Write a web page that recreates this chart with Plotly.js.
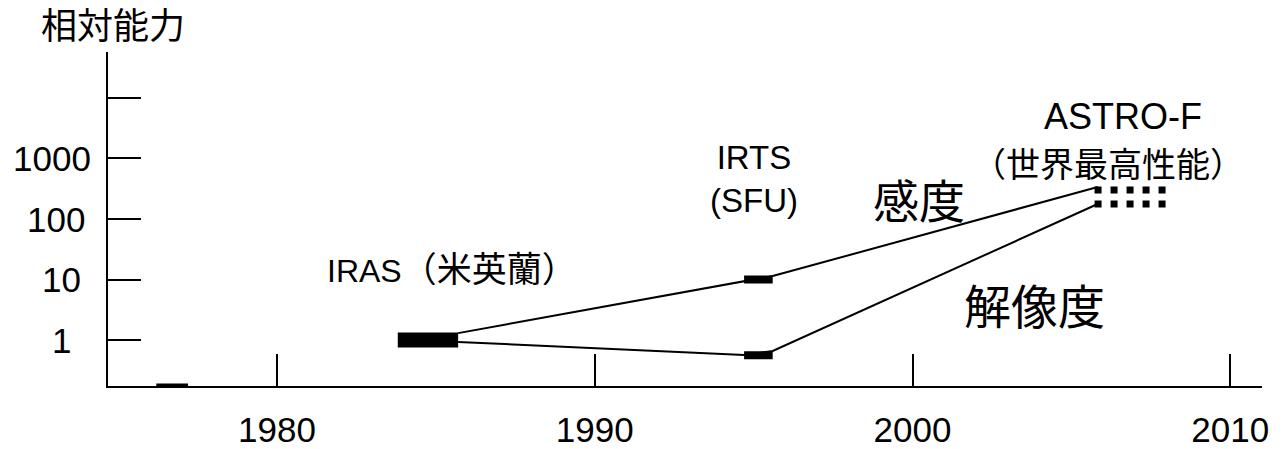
<!DOCTYPE html>
<html>
<head>
<meta charset="utf-8">
<script src="https://cdn.plot.ly/plotly-3.0.1.min.js"></script>
<style>html,body{margin:0;padding:0;background:#fff;}#chart{width:1282px;height:449px;}</style>
</head>
<body>
<div id="chart"></div>
<script>
// ---- data ----
const xTickVals = [1980, 1990, 2000, 2010];
const xTickText = ['1980', '1990', '2000', '2010'];
const yTickVals = [1, 10, 100, 1000, 10000];
const yTickText = ['1', '10', '100', '1000', ''];
const yTickLabelX = [-0.0399, -0.0407, -0.0451, -0.0485, 0];

const earlyYears = [1976.2, 1977.2];
const earlyValue = [0.18, 0.18];

const irasYears = [1983.8, 1985.7];
const irasValue = [1, 1];

const irtsYears = [1994.7, 1995.6];
const irtsSensitivity = [10, 10];
const irtsResolution = [0.56, 0.56];

const astroYears = [2005.73, 2008.0];
const astroSensitivity = [301, 301];
const astroResolution = [177, 177];

const sensYears = [1985.7, 1994.7, 1995.6, 2005.83];
const sensValues = [1.3, 9.4, 11.4, 338];
const resYears = [1985.7, 1994.7, 1995.6, 2005.83];
const resValues = [0.93, 0.565, 0.66, 177];

const labels = [
  {text: '<span style="font-size:32px">IRAS</span>（米英蘭）', x: 1985.5, y: 1.16, size: 35},
  {text: 'IRTS<br>(SFU)', x: 1995.0, y: 2.661, size: 33},
  {text: '感度', x: 2000.22, y: 2.281, size: 46},
  {text: '解像度', x: 2003.84, y: 0.545, size: 47},
  {text: 'ASTRO-F', x: 2006.61, y: 3.686, size: 36},
  {text: '（世界最高性能）', x: 2006.14, y: 2.90, size: 34}
];
const yAxisTitle = '相対能力';

// ---- chart ----
const FONT = "'Liberation Sans', Arial, 'Noto Sans CJK JP', sans-serif";
const black = '#000';
const traces = [
  {x: sensYears, y: sensValues, mode: 'lines', line: {color: black, width: 2}},
  {x: resYears, y: resValues, mode: 'lines', line: {color: black, width: 2}},
  {x: earlyYears, y: earlyValue, mode: 'lines', line: {color: black, width: 3}},
  {x: irasYears, y: irasValue, mode: 'lines', line: {color: black, width: 15}},
  {x: irtsYears, y: irtsSensitivity, mode: 'lines', line: {color: black, width: 8}},
  {x: irtsYears, y: irtsResolution, mode: 'lines', line: {color: black, width: 8}},
  {x: astroYears, y: astroSensitivity, mode: 'lines', line: {color: black, width: 7, dash: '7px,9px'}},
  {x: astroYears, y: astroResolution, mode: 'lines', line: {color: black, width: 7, dash: '7px,9px'}}
];

const annotations = labels.map(l => ({
  text: l.text, x: l.x, y: l.y, xref: 'x', yref: 'y', showarrow: false,
  xanchor: 'center', yanchor: 'middle', font: {family: FONT, size: l.size, color: black}
}));
yTickVals.forEach((v, i) => {
  if (!yTickText[i]) return;
  annotations.push({text: yTickText[i], x: yTickLabelX[i], y: Math.log10(v), xref: 'paper', yref: 'y',
    showarrow: false, xanchor: 'center', yanchor: 'middle', font: {family: FONT, size: 35, color: black}});
});
annotations.push({text: yAxisTitle, x: 0.0043, y: 1.075, xref: 'paper', yref: 'paper', showarrow: false,
  xanchor: 'center', yanchor: 'middle', font: {family: FONT, size: 36, color: black}});

const layout = {
  width: 1282, height: 449,
  margin: {l: 108, r: 20, t: 52, b: 63},
  paper_bgcolor: '#fff', plot_bgcolor: '#fff',
  showlegend: false,
  font: {family: FONT, color: black},
  xaxis: {
    range: [1974.68, 2011.0], showgrid: false, zeroline: false,
    showline: true, linecolor: black, linewidth: 2,
    ticks: 'inside', ticklen: 32, tickwidth: 2, tickcolor: black,
    tickvals: xTickVals, ticktext: xTickText, ticklabelstandoff: 12,
    tickfont: {family: FONT, size: 35, color: black}
  },
  yaxis: {
    type: 'log', range: [-0.76, 4.76], showgrid: false, zeroline: false,
    showline: true, linecolor: black, linewidth: 2,
    ticks: 'inside', ticklen: 33, tickwidth: 2, tickcolor: black,
    tickvals: yTickVals, ticktext: yTickText, showticklabels: false
  },
  annotations: annotations
};

Plotly.newPlot('chart', traces, layout, {staticPlot: true, displayModeBar: false});
</script>
</body>
</html>
